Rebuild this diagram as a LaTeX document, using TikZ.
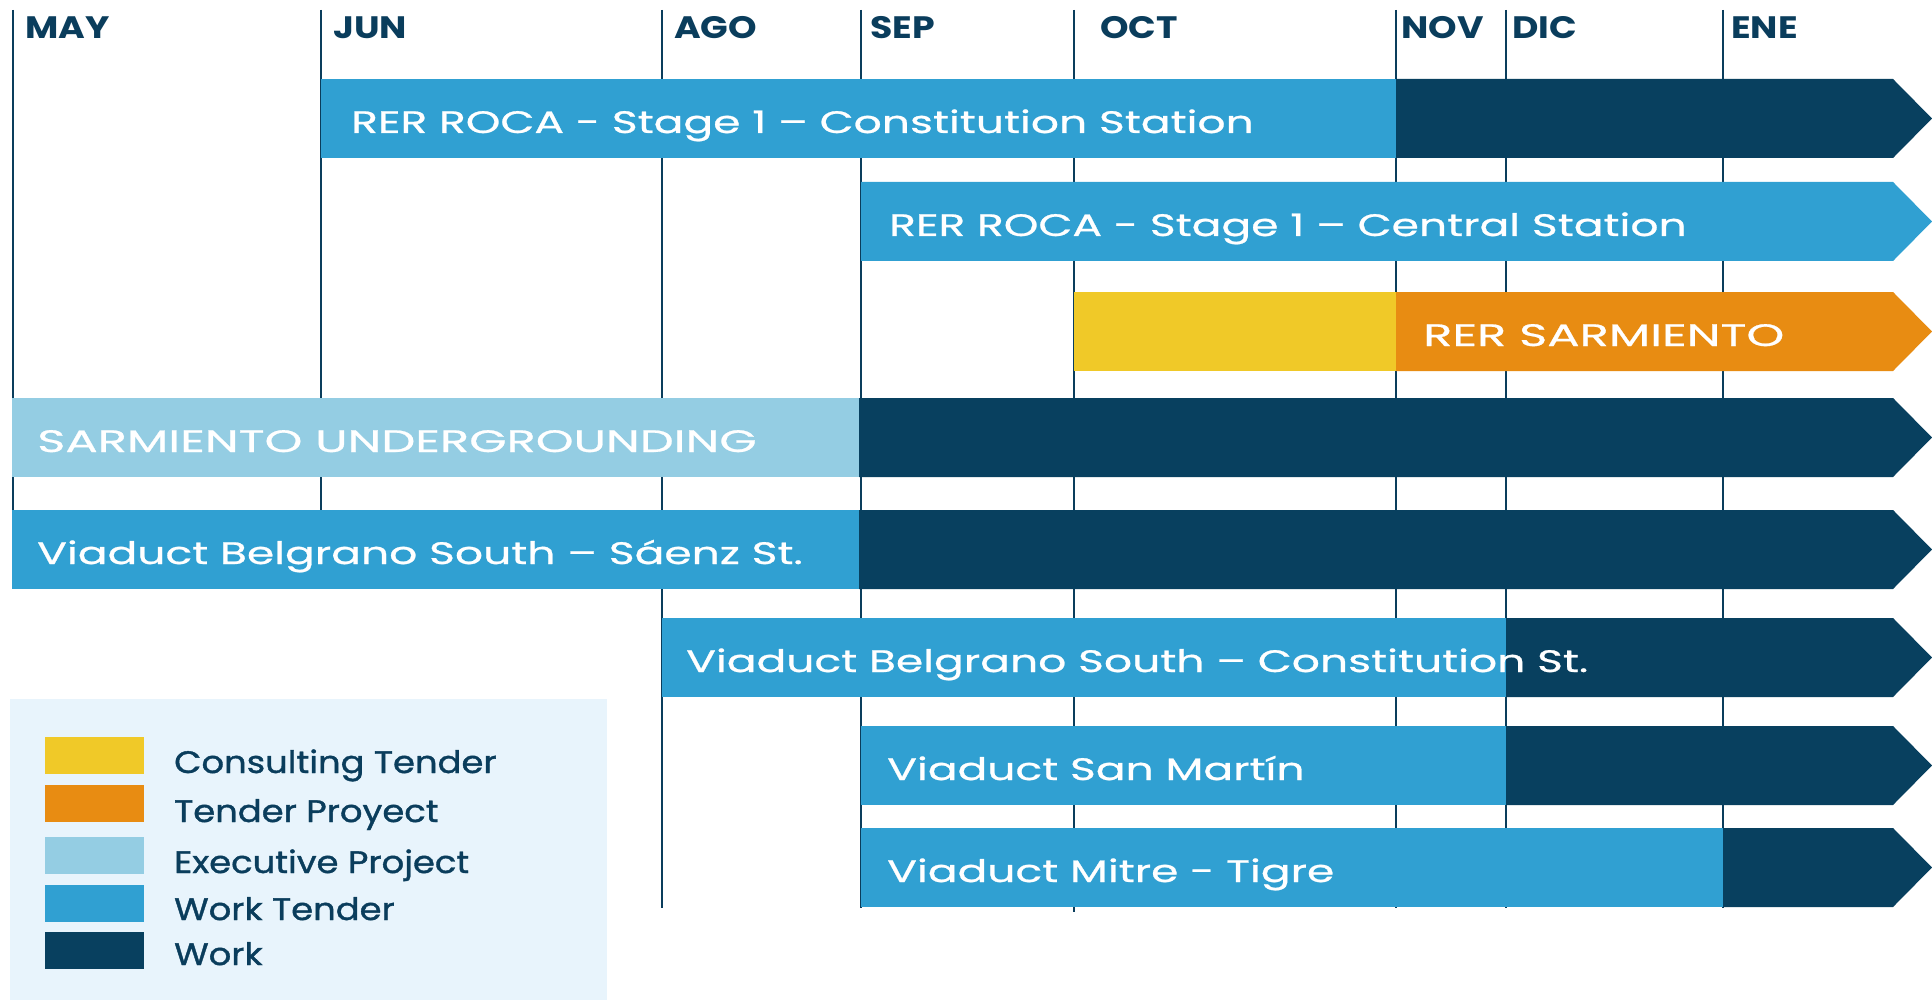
\documentclass[tikz,border=0pt]{standalone}
\usepackage{fontspec}
\setmainfont{Poppins}
\newfontfamily\barfont{Poppins}[FakeStretch=1.42,FakeBold=0.8]
\newfontfamily\capfont{Poppins}[FakeStretch=1.55,FakeBold=0.8]
\newfontfamily\monthfont{Poppins Bold}[FakeStretch=1.17]
\newfontfamily\legfont{Poppins}[FakeStretch=1.14,FakeBold=1.2]
\definecolor{work}{HTML}{08405F}
\definecolor{wtender}{HTML}{30A0D2}
\definecolor{execp}{HTML}{94CDE3}
\definecolor{cons}{HTML}{F0C928}
\definecolor{tproj}{HTML}{E88C12}
\definecolor{legbg}{HTML}{E8F4FC}
\definecolor{navy}{HTML}{0A3D5C}
\newcommand\ganttrow[9]{%
  \fill[#5] (#3,#2) rectangle (#4,#2+79);
  \fill[#6] (#4,#2) -- (1893,#2) -- (1932,#2+39.5) -- (1893,#2+79) -- (#4,#2+79) -- cycle;
  \node[bartext,#9] (#1) at (#7,#2+54) {#8};
}
\begin{document}
\begin{tikzpicture}[x=1pt,y=-1pt,
  bartext/.style={anchor=base west,inner sep=0pt,text=white,font=\fontsize{31}{31}\selectfont\barfont},
  capstext/.style={font=\fontsize{31}{31}\selectfont\capfont},
  monthlbl/.style={anchor=base west,inner sep=0pt,text=navy,font=\fontsize{31}{31}\selectfont\monthfont},
  legtext/.style={anchor=base west,inner sep=0pt,text=navy,font=\fontsize{31}{31}\selectfont\legfont},
  gridline/.style={draw=navy,line width=2pt},
  swatch/.style={inner sep=0pt,minimum width=99pt,minimum height=37pt,anchor=north west}]
\useasboundingbox (0,0) rectangle (1932,1000);
\fill[white] (0,0) rectangle (1932,1000);
% month grid lines
\coordinate (mayT) at (13,10);   \coordinate (mayB) at (13,589);
\coordinate (junT) at (321,10);  \coordinate (junB) at (321,510);
\coordinate (agoT) at (662,10);  \coordinate (agoB) at (662,908);
\coordinate (sepT) at (861,10);  \coordinate (sepB) at (861,908);
\coordinate (octT) at (1074,10); \coordinate (octB) at (1074,912);
\coordinate (novT) at (1396,10); \coordinate (novB) at (1396,908);
\coordinate (dicT) at (1506,10); \coordinate (dicB) at (1506,908);
\coordinate (eneT) at (1723,10); \coordinate (eneB) at (1723,908);
\foreach \m in {may,jun,ago,sep,oct,nov,dic,ene}
  \draw[gridline] (\m T) -- (\m B);
% month labels
\node[monthlbl] (lmay) at (25,39) {MAY};
\node[monthlbl] (ljun) at (333,39) {JUN};
\node[monthlbl] (lago) at (674,39) {AGO};
\node[monthlbl] (lsep) at (870,39) {SEP};
\node[monthlbl] (loct) at (1100,39) {OCT};
\node[monthlbl] (lnov) at (1401,39) {NOV};
\node[monthlbl] (ldic) at (1512,39) {DIC};
\node[monthlbl] (lene) at (1731,39) {ENE};
% bars
\ganttrow{r1}{79}{321}{1396}{wtender}{work}{351}{RER ROCA - Stage 1 – Constitution Station}{}
\ganttrow{r2}{182}{861}{861}{wtender}{wtender}{889}{RER ROCA - Stage 1 – Central Station}{}
\ganttrow{r3}{292}{1074}{1396}{cons}{tproj}{1423}{RER SARMIENTO}{capstext}
\ganttrow{r4}{398}{12}{859}{execp}{work}{37}{SARMIENTO UNDERGROUNDING}{capstext}
\ganttrow{r5}{510}{12}{859}{wtender}{work}{37}{Viaduct Belgrano South – Sáenz St.}{}
\ganttrow{r6}{618}{662}{1506}{wtender}{work}{686}{Viaduct Belgrano South – Constitution St.}{}
\ganttrow{r7}{726}{861}{1506}{wtender}{work}{887}{Viaduct San Martín}{}
\ganttrow{r8}{828}{861}{1723}{wtender}{work}{887}{Viaduct Mitre - Tigre}{}
% legend
\fill[legbg] (10,699) rectangle (607,1000);
\node[swatch,fill=cons]    (s1) at (45,737) {};
\node[swatch,fill=tproj]   (s2) at (45,785) {};
\node[swatch,fill=execp]   (s3) at (45,837) {};
\node[swatch,fill=wtender] (s4) at (45,885) {};
\node[swatch,fill=work]    (s5) at (45,932) {};
\node[legtext] (t1) at (174,773) {Consulting Tender};
\node[legtext] (t2) at (174,822) {Tender Proyect};
\node[legtext] (t3) at (174,873) {Executive Project};
\node[legtext] (t4) at (174,920) {Work Tender};
\node[legtext] (t5) at (174,965) {Work};
\end{tikzpicture}
\end{document}
